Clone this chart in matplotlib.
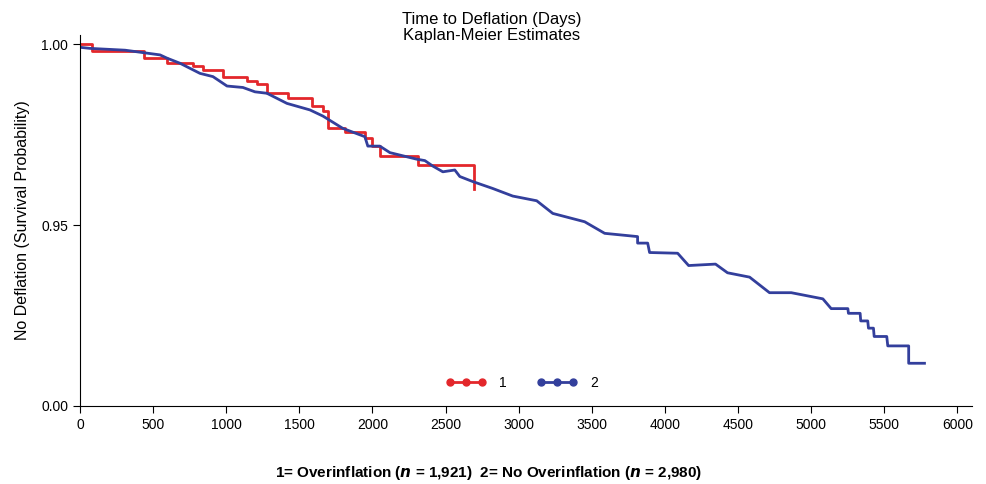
import matplotlib.pyplot as plt
from matplotlib.lines import Line2D

plt.rcParams['font.family'] = ['Liberation Sans', 'DejaVu Sans']

# group 1 = overinflation (Kaplan-Meier steps)
days_1 = [0, 82, 440, 595, 772, 841, 977, 1141, 1210, 1278, 1421, 1585, 1661,
          1695, 1811, 1948, 2000, 2050, 2312, 2693]
surv_1 = [1.0, 0.9982, 0.9961, 0.9948, 0.9939, 0.9928, 0.9910, 0.9899, 0.9890,
          0.9866, 0.9852, 0.9829, 0.9814, 0.9769, 0.9756, 0.9740, 0.9719,
          0.9691, 0.9666, 0.9599]

# group 2 = no overinflation
days_2 = [0, 68, 308, 547, 595, 683, 820, 909, 1005, 1114, 1196, 1278, 1415,
          1572, 1661, 1797, 1948, 1968, 2050, 2119, 2301, 2358, 2412, 2481,
          2563, 2597, 2686, 2822, 2959, 3123, 3233, 3451, 3588, 3813, 3813,
          3882, 3895, 4087, 4162, 4346, 4428, 4579, 4715, 4864, 5080, 5137,
          5251, 5255, 5335, 5339, 5387, 5392, 5426, 5431, 5517, 5524, 5667,
          5667, 5775]
surv_2 = [0.9991, 0.9988, 0.9983, 0.9970, 0.9961, 0.9947, 0.9919, 0.9910,
          0.9884, 0.9880, 0.9868, 0.9864, 0.9836, 0.9818, 0.9801, 0.9767,
          0.9744, 0.9718, 0.9718, 0.9700, 0.9682, 0.9678, 0.9663, 0.9647,
          0.9652, 0.9634, 0.9620, 0.9601, 0.9580, 0.9567, 0.9532, 0.9509,
          0.9477, 0.9468, 0.9450, 0.9450, 0.9424, 0.9422, 0.9388, 0.9392,
          0.9368, 0.9356, 0.9313, 0.9313, 0.9296, 0.9269, 0.9269, 0.9256,
          0.9256, 0.9235, 0.9235, 0.9215, 0.9215, 0.9192, 0.9192, 0.9166,
          0.9166, 0.9118, 0.9118]

x_ticks = list(range(0, 6001, 500))
y_ticks = [0.90, 0.95, 1.00]
y_labels = ['0.00', '0.95', '1.00']

red = '#e3272b'
blue = '#333f9c'

fig = plt.figure(figsize=(9.87, 4.84), dpi=100)
ax = fig.add_axes([0.0811, 0.1612, 0.9037, 0.7665])

ax.step(days_1, surv_1, where='post', color=red, lw=2)
ax.plot(days_2, surv_2, color=blue, lw=2)

ax.set_xlim(0, 6100)
ax.set_ylim(0.90, 1.0025)
ax.set_xticks(x_ticks)
ax.set_yticks(y_ticks)
ax.set_yticklabels(y_labels)
ax.tick_params(labelsize=10, length=5, width=0.8)
for s in ['top', 'right']:
    ax.spines[s].set_visible(False)

ax.set_ylabel('No Deflation (Survival Probability)', fontsize=11.5, labelpad=8)
fig.text(0.4985, 1 - 43 / 484, 'Time to Deflation (Days)\nKaplan-Meier Estimates',
         ha='center', va='bottom', fontsize=12, linespacing=1.1)

handles = [Line2D([], [], color=red, lw=2, marker='o', ms=5),
           Line2D([], [], color=blue, lw=2, marker='o', ms=5)]
ax.legend(handles, ['1', '2'], loc='center', bbox_to_anchor=(0.4955, 0.062),
          ncol=2, frameon=False, numpoints=3, handlelength=2.9,
          handletextpad=0.9, columnspacing=2.2, fontsize=10)

fig.text(0.495, 0.005,
         r'1= Overinflation ($\mathbfit{n}$ = 1,921)  2= No Overinflation ($\mathbfit{n}$ = 2,980)',
         ha='center', va='bottom', fontsize=11, fontweight='bold')

plt.savefig('out.png')
plt.close()
